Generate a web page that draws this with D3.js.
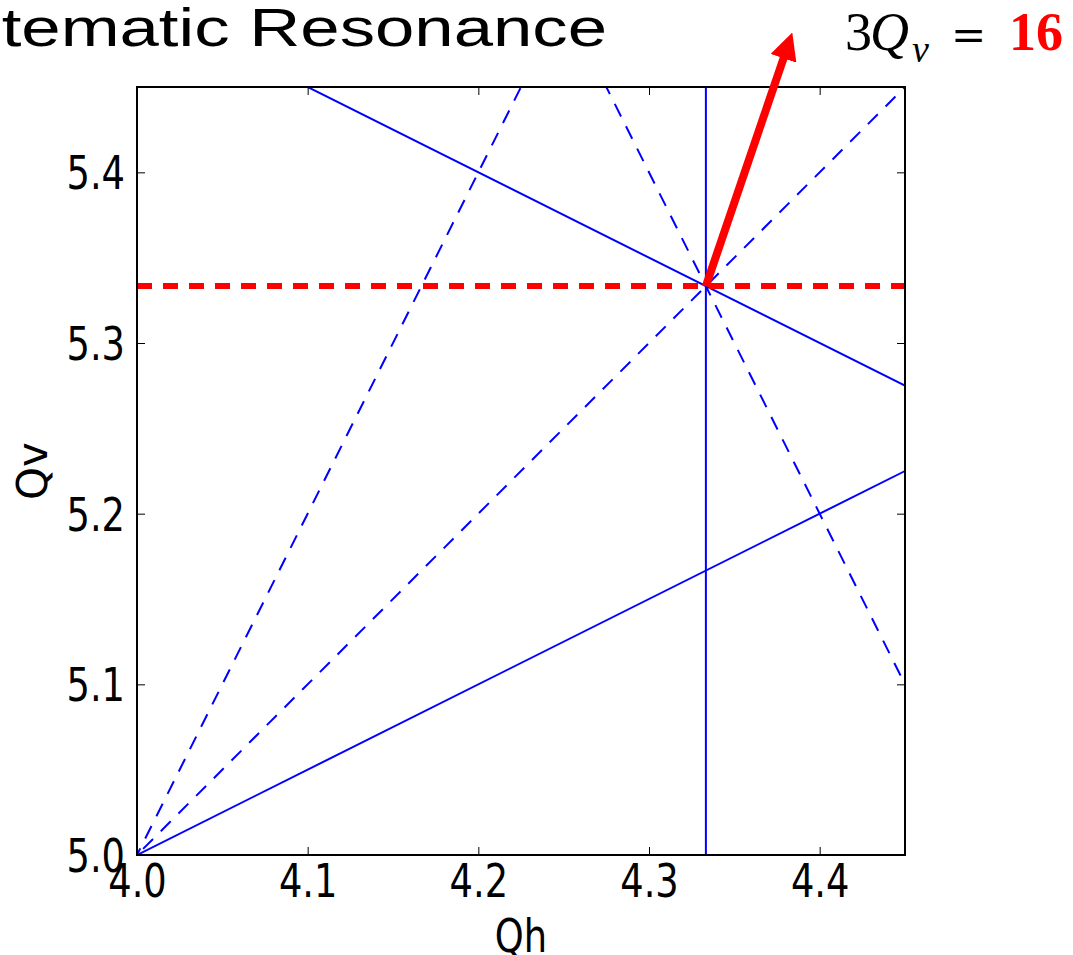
<!DOCTYPE html>
<html>
<head>
<meta charset="utf-8">
<script src="https://d3js.org/d3.v7.min.js"></script>
<style>
  body { margin: 0; background: #fff; }
</style>
</head>
<body>
<div id="chart"></div>
<script>
  // resonance lines: m*Qh + n*Qv = p
  var solidLines = [[1, 2, 15], [-1, 2, 6], [3, 0, 13]];
  var dashedLines = [[2, -1, 3], [1, -1, -1], [2, 1, 14], [0, 1, 5]];
  var redLine = [0, 3, 16];
  var arrowFrom = [4.3333, 5.3333];
  var arrowTo = [4.384, 5.482];
  var xTicks = [4.0, 4.1, 4.2, 4.3, 4.4];
  var yTicks = [5.0, 5.1, 5.2, 5.3, 5.4];

  var width = 1073;
  var height = 955;
  var pLeft = 137, pRight = 905, pTop = 87, pBottom = 855;

  var svg = d3.select("#chart")
    .append("svg")
    .attr("width", width)
    .attr("height", height);

  var x = d3.scaleLinear().domain([4.0, 4.45]).range([pLeft, pRight]);
  var y = d3.scaleLinear().domain([5.0, 5.45]).range([pBottom, pTop]);

  svg.append("clipPath").attr("id", "plot")
    .append("rect")
    .attr("x", pLeft).attr("y", pTop)
    .attr("width", pRight - pLeft).attr("height", pBottom - pTop);

  // two far-apart points on the line m*Qh + n*Qv = p
  function ends(l) {
    var m = l[0], n = l[1], p = l[2];
    if (n == 0) return [[p / m, 4.9], [p / m, 5.6]];
    return [[3.9, (p - m * 3.9) / n], [4.6, (p - m * 4.6) / n]];
  }

  var g = svg.append("g").attr("clip-path", "url(#plot)");

  g.selectAll(".solid")
    .data(solidLines)
    .enter()
    .append("line")
    .attr("x1", function(d){ return x(ends(d)[0][0]) })
    .attr("y1", function(d){ return y(ends(d)[0][1]) })
    .attr("x2", function(d){ return x(ends(d)[1][0]) })
    .attr("y2", function(d){ return y(ends(d)[1][1]) })
    .attr("stroke", "#0000ff")
    .attr("stroke-width", 2);

  g.selectAll(".dashed")
    .data(dashedLines)
    .enter()
    .append("line")
    .attr("x1", function(d){ return x(ends(d)[0][0]) })
    .attr("y1", function(d){ return y(ends(d)[0][1]) })
    .attr("x2", function(d){ return x(ends(d)[1][0]) })
    .attr("y2", function(d){ return y(ends(d)[1][1]) })
    .attr("stroke", "#0000ff")
    .attr("stroke-width", 2)
    .attr("stroke-dasharray", "14,11");

  // the 3Qv = 16 line
  g.append("line")
    .attr("x1", x(4.0))
    .attr("y1", y(redLine[2] / redLine[1]))
    .attr("x2", x(4.45))
    .attr("y2", y(redLine[2] / redLine[1]))
    .attr("stroke", "#ff0000")
    .attr("stroke-width", 6)
    .attr("stroke-dasharray", "15,11");

  // axes, ticks inside on all four sides
  svg.append("g")
    .attr("class", "xax")
    .attr("transform", "translate(0," + pBottom + ")")
    .call(d3.axisBottom(x).tickValues(xTicks).tickSize(-8).tickPadding(9).tickFormat(d3.format(".1f")));
  svg.append("g")
    .attr("transform", "translate(0," + pTop + ")")
    .call(d3.axisTop(x).tickValues(xTicks).tickSize(-8).tickFormat(""));
  svg.append("g")
    .attr("class", "yax")
    .attr("transform", "translate(" + pLeft + ",0)")
    .call(d3.axisLeft(y).tickValues(yTicks).tickSize(-8).tickFormat(d3.format(".1f")));
  svg.append("g")
    .attr("transform", "translate(" + pRight + ",0)")
    .call(d3.axisRight(y).tickValues(yTicks).tickSize(-8).tickFormat(""));

  svg.selectAll(".domain").remove();
  svg.selectAll(".tick line").attr("stroke", "#000").attr("stroke-width", 1);
  svg.selectAll(".tick text")
    .attr("font-family", "DejaVu Sans")
    .attr("font-size", 46)
    .attr("fill", "#000")
    .attr("transform", "scale(0.8,1)");
  svg.selectAll(".yax .tick text").attr("x", -12 / 0.8).attr("dy", "0.36em");

  svg.append("rect")
    .attr("x", pLeft).attr("y", pTop)
    .attr("width", pRight - pLeft).attr("height", pBottom - pTop)
    .attr("fill", "none")
    .attr("stroke", "#000")
    .attr("stroke-width", 2);

  // axis labels
  svg.append("text")
    .attr("transform", "translate(" + (pLeft + pRight) / 2 + ",952) scale(0.8,1)")
    .attr("text-anchor", "middle")
    .attr("font-family", "DejaVu Sans")
    .attr("font-size", 46)
    .text("Qh");

  svg.append("text")
    .attr("transform", "translate(47," + (pTop + pBottom) / 2 + ") rotate(-90)")
    .attr("text-anchor", "middle")
    .attr("font-family", "DejaVu Sans")
    .attr("font-size", 42)
    .text("Qv");

  // arrow
  svg.append("defs").append("marker")
    .attr("id", "head")
    .attr("viewBox", "0 0 10 10")
    .attr("refX", 2).attr("refY", 5)
    .attr("markerWidth", 3.4).attr("markerHeight", 3.4)
    .attr("orient", "auto")
    .append("path")
    .attr("d", "M0,0 L10,5 L0,10 Z")
    .attr("fill", "#ff0000");

  var ax1 = x(arrowFrom[0]), ay1 = y(arrowFrom[1]);
  var ax2 = x(arrowTo[0]), ay2 = y(arrowTo[1]);
  var len = Math.sqrt((ax2 - ax1) * (ax2 - ax1) + (ay2 - ay1) * (ay2 - ay1));
  var cut = 22 / len;
  svg.append("line")
    .attr("x1", ax1).attr("y1", ay1)
    .attr("x2", ax2 - (ax2 - ax1) * cut)
    .attr("y2", ay2 - (ay2 - ay1) * cut)
    .attr("stroke", "#ff0000")
    .attr("stroke-width", 8)
    .attr("marker-end", "url(#head)");

  // title (cut off at the left edge)
  svg.append("text")
    .attr("transform", "translate(607,46) scale(1.31,1)")
    .attr("text-anchor", "end")
    .attr("font-family", "Liberation Sans")
    .attr("font-size", 54)
    .text("Systematic Resonance");

  // 3Qv = 16
  var eq = svg.append("text")
    .attr("y", 50)
    .attr("font-family", "Liberation Serif")
    .attr("font-size", 54);
  eq.append("tspan").attr("x", 845).text("3");
  eq.append("tspan").attr("x", 870).attr("font-style", "italic").text("Q");
  eq.append("tspan").attr("x", 912).attr("dy", 12).attr("font-style", "italic").attr("font-size", 38).text("v");
  eq.append("tspan").attr("x", 951).attr("dy", -12).attr("font-family", "DejaVu Serif").attr("font-size", 42).text("=");
  eq.append("tspan").attr("x", 1009).attr("font-weight", "bold").attr("fill", "#ff0000").text("16");
</script>
</body>
</html>
